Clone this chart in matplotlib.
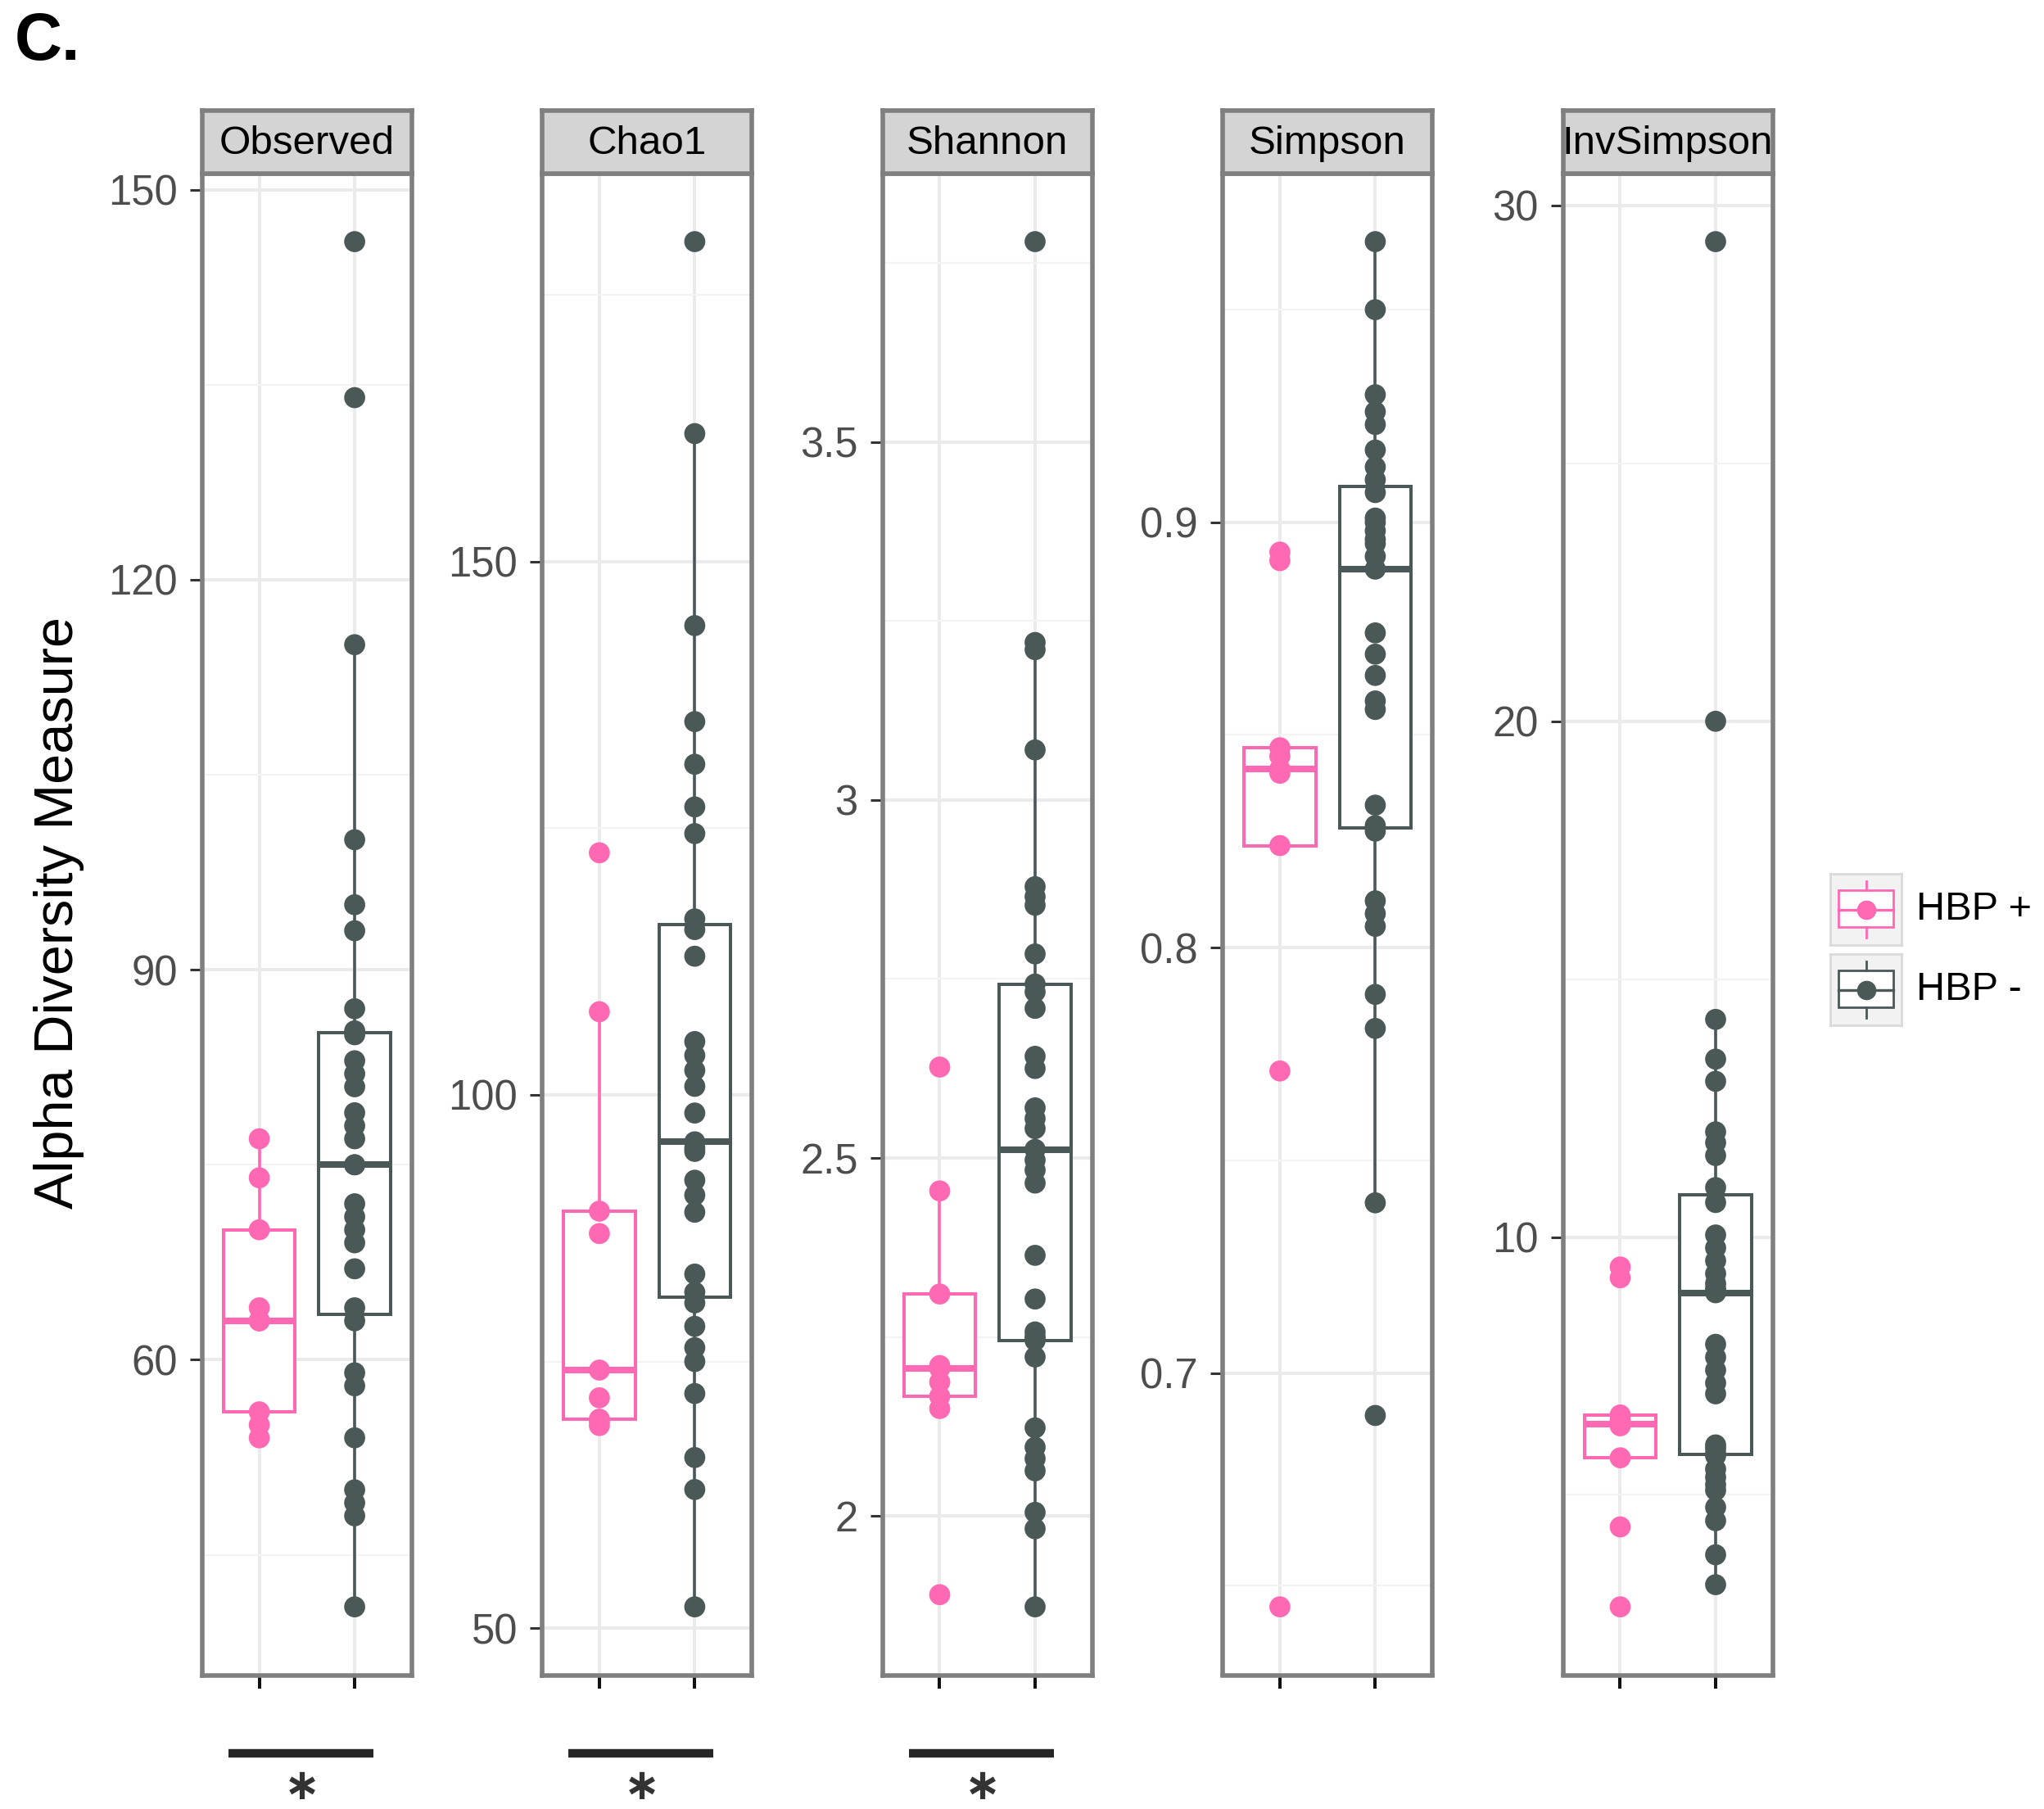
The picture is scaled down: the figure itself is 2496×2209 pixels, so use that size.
import numpy as np
import matplotlib
matplotlib.use("Agg")
import matplotlib.pyplot as plt
from matplotlib.patches import Rectangle
from matplotlib.lines import Line2D

plt.rcParams['font.family'] = ['Liberation Sans', 'DejaVu Sans']

# ---------------- data ----------------
measures = ["Observed", "Chao1", "Shannon", "Simpson", "InvSimpson"]
groups = ["HBP +", "HBP -"]
group_colors = ["#FF69B4", "#4A5858"]

observed_pos = [54, 55, 56, 63, 63, 64, 70, 74, 77]
observed_neg = [146, 134, 115, 100, 95, 93, 87, 85.3, 85, 83, 82, 81, 79, 78, 77, 75, 75,
                72, 71, 70, 69, 67, 64, 63, 59, 58, 54, 50, 49, 48, 41]

chao1_pos = [69.0, 69.4, 69.6, 71.6, 74.2, 87.0, 89.1, 107.8, 122.7]
chao1_neg = [180, 162, 144, 135, 131, 127, 124.5, 116.5, 115.5, 113, 105, 103.7, 102.3,
             100.8, 98.3, 95.6, 95.0, 94.7, 92, 90.6, 89, 83.2, 81.5, 80.5, 78.3, 76.3, 75,
             72, 66, 63, 52]

shannon_pos = [1.89, 2.15, 2.167, 2.187, 2.206, 2.21, 2.31, 2.454, 2.627]
shannon_neg = [3.78, 3.22, 3.21, 3.07, 2.879, 2.865, 2.853, 2.785, 2.743, 2.732, 2.709,
               2.642, 2.625, 2.570, 2.555, 2.541, 2.512, 2.497, 2.483, 2.465, 2.364, 2.303,
               2.257, 2.25, 2.245, 2.222, 2.123, 2.096, 2.08, 2.063, 2.005, 1.982, 1.873]

simpson_pos = [0.645, 0.771, 0.824, 0.841, 0.842, 0.845, 0.847, 0.891, 0.893]
simpson_neg = [0.966, 0.950, 0.930, 0.926, 0.923, 0.917, 0.913, 0.910, 0.907, 0.901, 0.900,
               0.898, 0.896, 0.895, 0.892, 0.889, 0.874, 0.869, 0.864, 0.858, 0.856, 0.8335,
               0.8287, 0.8274, 0.811, 0.808, 0.805, 0.789, 0.781, 0.740, 0.690]

invsimpson_pos = [2.83, 4.38, 5.72, 6.34, 6.38, 6.45, 6.55, 9.21, 9.42]
invsimpson_neg = [29.3, 20.0, 14.22, 13.45, 13.02, 12.04, 11.83, 11.58, 10.96, 10.67, 10.04,
                  9.79, 9.54, 9.29, 9.1, 9.0, 8.95, 8.92, 7.92, 7.67, 7.42, 7.17, 6.96, 5.97,
                  5.9, 5.8, 5.76, 5.5, 5.34, 5.2, 5.09, 4.76, 4.5, 3.84, 3.26]

values = {
    "Observed": [observed_pos, observed_neg],
    "Chao1": [chao1_pos, chao1_neg],
    "Shannon": [shannon_pos, shannon_neg],
    "Simpson": [simpson_pos, simpson_neg],
    "InvSimpson": [invsimpson_pos, invsimpson_neg],
}
major_ticks = {
    "Observed": [60, 90, 120, 150],
    "Chao1": [50, 100, 150],
    "Shannon": [2, 2.5, 3, 3.5],
    "Simpson": [0.7, 0.8, 0.9],
    "InvSimpson": [10, 20, 30],
}
minor_ticks = {
    "Observed": [45, 75, 105, 135],
    "Chao1": [75, 125, 175],
    "Shannon": [2.25, 2.75, 3.25, 3.75],
    "Simpson": [0.65, 0.75, 0.85, 0.95],
    "InvSimpson": [5, 15, 25],
}
significant = ["Observed", "Chao1", "Shannon"]
sig_label = "\u2217"

# ---------------- layout ----------------
W, H = 2496, 2209
fig = plt.figure(figsize=(W / 100, H / 100), dpi=100)

def fx(px):
    return px / W

def fy(py):
    return 1 - py / H

panel_left = [246.7, 662.0, 1077.6, 1493.0, 1908.6]
panel_w = 256.3
panel_top, panel_bot, strip_top = 211.7, 2045.5, 135.3
panel_h = panel_bot - panel_top
border = "#7F7F7F"

for i, m in enumerate(measures):
    ax = fig.add_axes([fx(panel_left[i]), fy(panel_bot), fx(panel_w), panel_h / H])
    data = values[m]
    allv = np.concatenate([np.asarray(d, float) for d in data])
    lo, hi = allv.min(), allv.max()
    pad = 0.05 * (hi - lo)
    ax.set_xlim(0.4, 2.6)
    ax.set_ylim(lo - pad, hi + pad)
    ax.set_axisbelow(True)

    ax.set_yticks(major_ticks[m])
    ax.set_yticklabels(["%g" % v for v in major_ticks[m]])
    ax.set_yticks(minor_ticks[m], minor=True)
    ax.set_xticks([1, 2])
    ax.set_xticklabels(["", ""])
    ax.grid(which="major", color="#EBEBEB", lw=2.9)
    ax.grid(which="minor", axis="y", color="#F3F3F3", lw=1.5)
    ax.tick_params(axis="y", which="major", length=10.8, width=2.2, color="#333333",
                   labelsize=36.5, labelcolor="#4D4D4D", pad=10.8)
    ax.tick_params(axis="x", which="major", length=11.5, width=2.9, color="#111111")
    ax.tick_params(which="minor", length=0)
    for s in ax.spines.values():
        s.set_color(border)
        s.set_linewidth(4)

    bp = ax.boxplot(data, positions=[1, 2], widths=0.75, whis=1.5, showfliers=False,
                    showcaps=False, patch_artist=True, manage_ticks=False)
    for g in range(2):
        c = group_colors[g]
        bp["boxes"][g].set(facecolor="white", edgecolor=c, linewidth=2.9, zorder=2)
        bp["medians"][g].set(color=c, linewidth=5.8, zorder=2.5,
                             solid_capstyle="butt")
        for wk in bp["whiskers"][2 * g:2 * g + 2]:
            wk.set(color=c, linewidth=2.6, zorder=1.9)
        ax.scatter(np.full(len(data[g]), g + 1), data[g], s=18.5 ** 2, color=c,
                   edgecolors="none", zorder=3)

    # strip
    sax = fig.add_axes([fx(panel_left[i]), fy(panel_top), fx(panel_w),
                        (panel_top - strip_top) / H])
    sax.set_facecolor("#D4D4D4")
    sax.set_xticks([])
    sax.set_yticks([])
    for s in sax.spines.values():
        s.set_color(border)
        s.set_linewidth(4)
    sax.text(0.5, 0.47, m, ha="center", va="center", fontsize=35.5, color="black",
             transform=sax.transAxes)

    if m in significant:
        ax.plot([0.677, 2.196], [-(2141 - panel_bot) / panel_h] * 2,
                transform=ax.get_xaxis_transform(), clip_on=False, color="#262626",
                lw=7.5, solid_capstyle="butt")
        ax.text(1.45, -(2208 - panel_bot) / panel_h, sig_label,
                transform=ax.get_xaxis_transform(), ha="center", va="bottom",
                fontsize=38, color="#333333", fontweight="bold",
                family=["DejaVu Sans"], clip_on=False)

# panel label and axis title
fig.text(fx(18), fy(14), "C.", ha="left", va="top", fontsize=58, fontweight="bold")
fig.text(fx(72), fy(1114), "Alpha Diversity Measure", rotation=90, ha="center",
         va="center", fontsize=48, color="black")

# legend
key_tops = [1067, 1165]
key_size = 87
for g in range(2):
    c = group_colors[g]
    kax = fig.add_axes([fx(2235), fy(key_tops[g] + key_size), fx(key_size), key_size / H])
    kax.set_facecolor("#F2F2F2")
    kax.set_xlim(0, 1)
    kax.set_ylim(0, 1)
    kax.set_xticks([])
    kax.set_yticks([])
    for s in kax.spines.values():
        s.set_color("#DADADA")
        s.set_linewidth(2)
    kax.add_patch(Rectangle((0.115, 0.25), 0.77, 0.52, facecolor="white", edgecolor=c, lw=2.0))
    kax.add_line(Line2D([0.115, 0.885], [0.5, 0.5], color=c, lw=2.4))
    kax.add_line(Line2D([0.5, 0.5], [0.77, 0.9], color=c, lw=2.0))
    kax.add_line(Line2D([0.5, 0.5], [0.1, 0.25], color=c, lw=2.0))
    kax.plot([0.5], [0.5], "o", color=c, markersize=17, markeredgewidth=0)
    fig.text(fx(2340), fy(key_tops[g] + key_size / 2), groups[g], ha="left", va="center",
             fontsize=35, color="black")

fig.savefig("out.png", dpi=100, facecolor="white")
